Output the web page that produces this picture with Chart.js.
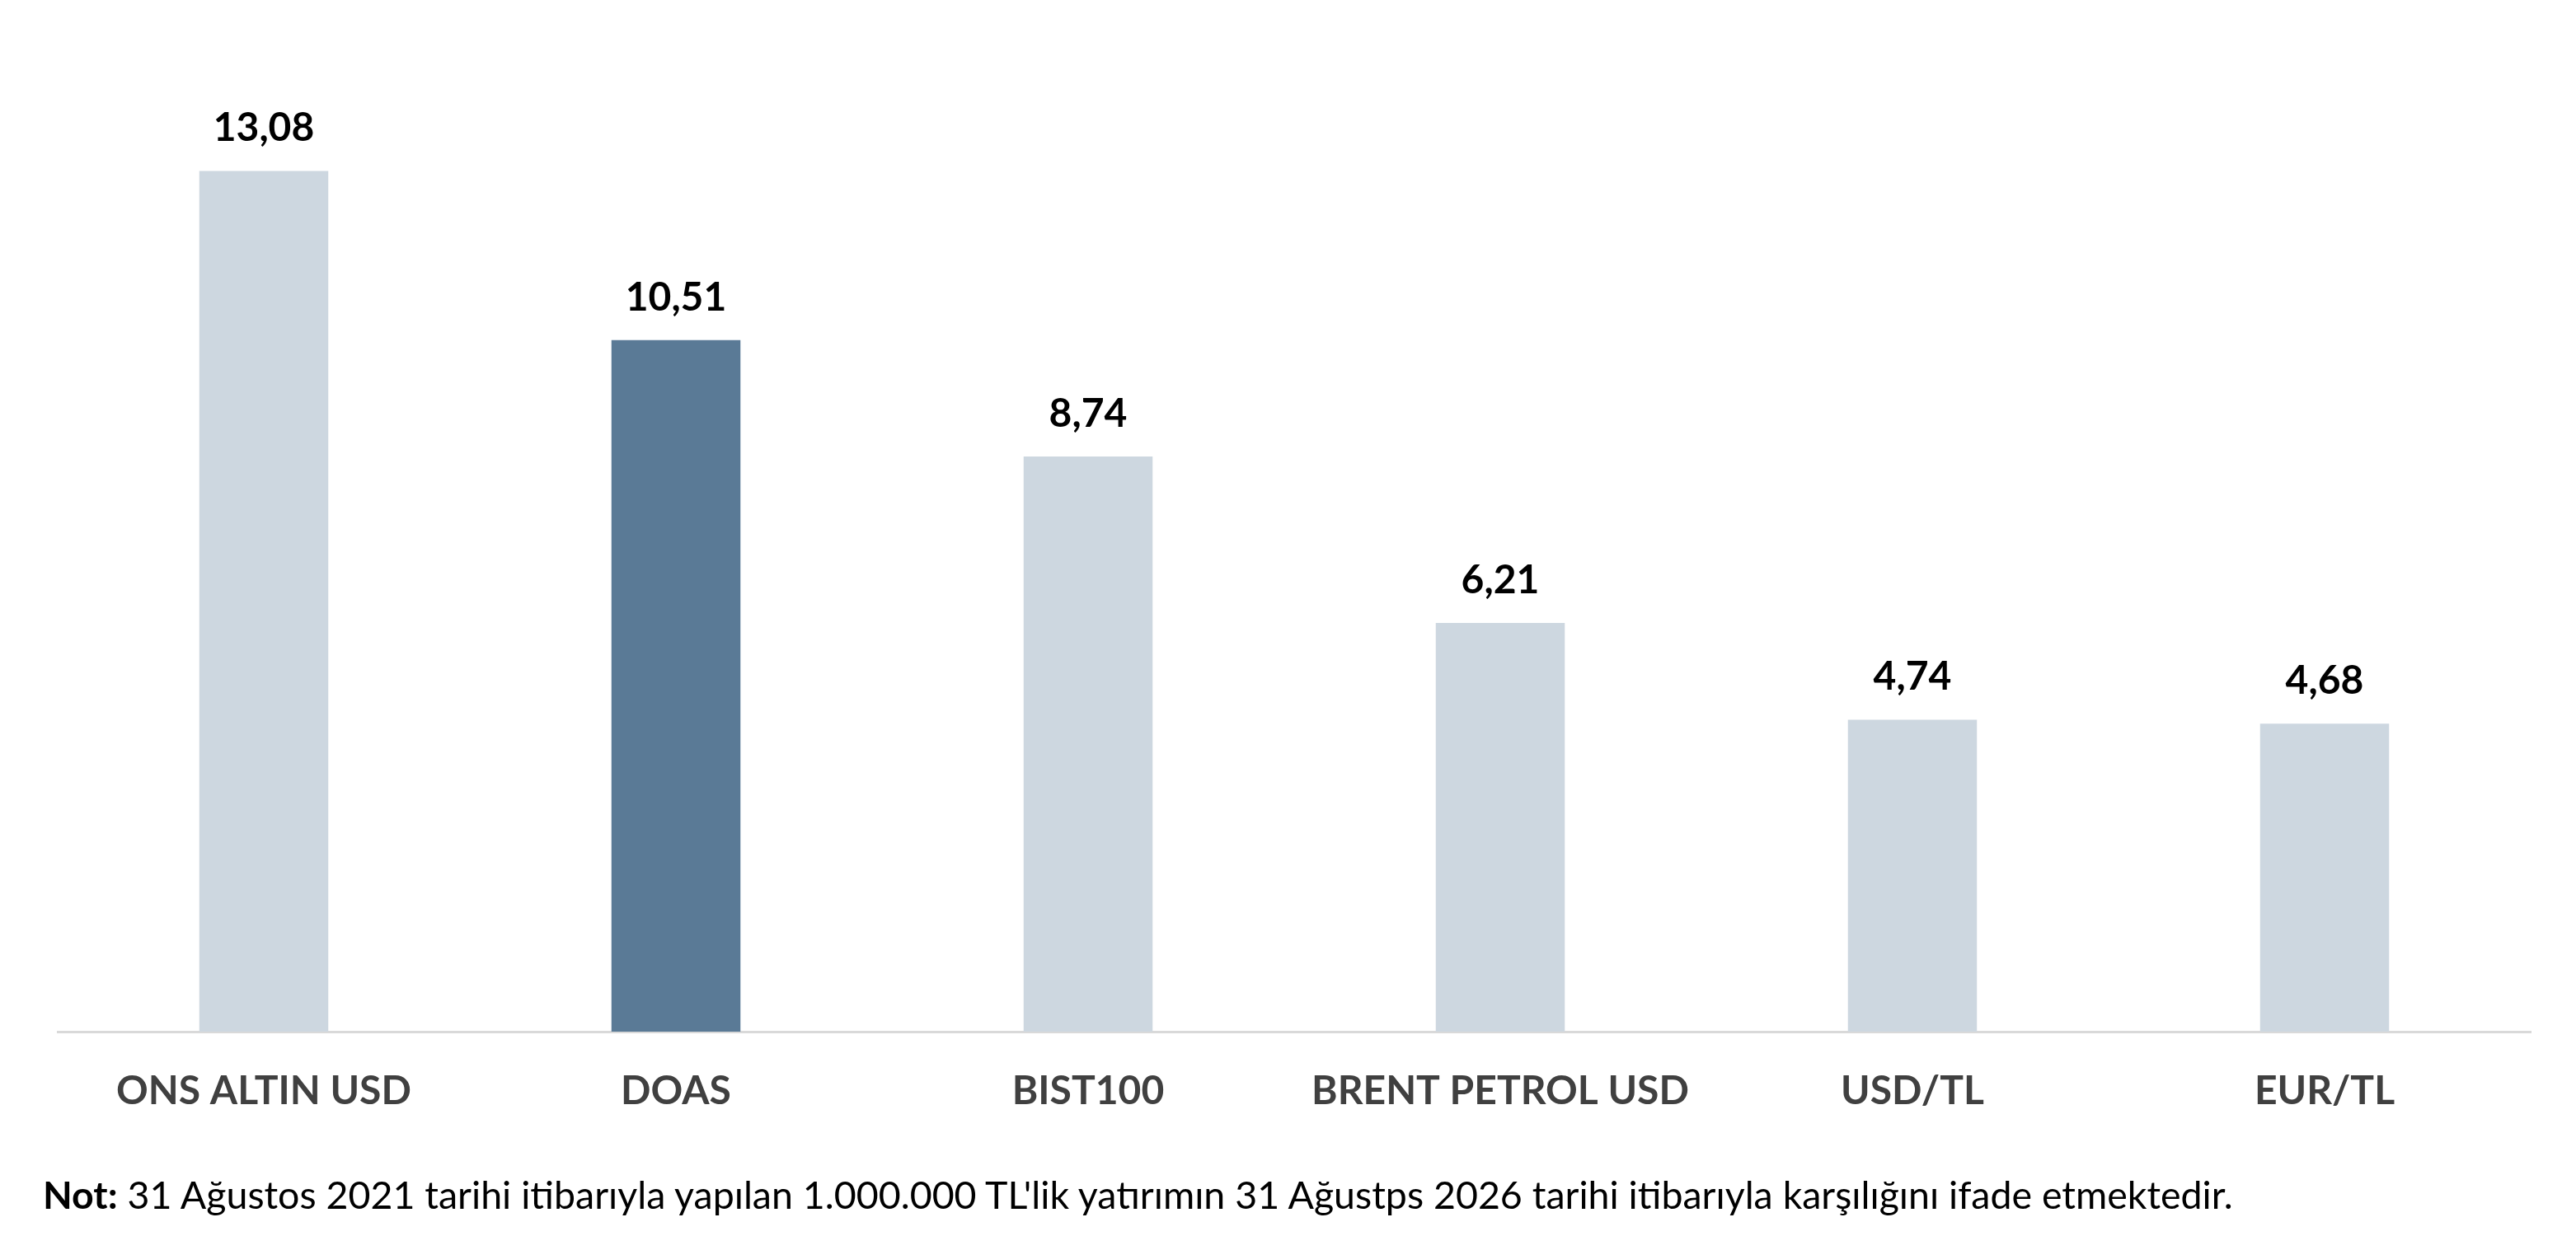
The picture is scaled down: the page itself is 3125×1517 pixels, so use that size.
<!DOCTYPE html>
<html>
<head>
<meta charset="utf-8">
<script src="https://cdn.jsdelivr.net/npm/chart.js@4.4.1/dist/chart.umd.min.js"></script>
<style>
  html, body { margin: 0; padding: 0; background: #fff; }
  #wrap { position: relative; width: 3125px; height: 1517px; }
  #note {
    position: absolute; left: 52px; top: 1421px;
    font-family: Lato, "Open Sans", sans-serif; font-size: 46.5px; color: #000;
    white-space: nowrap;
  }
  #note b { font-weight: 700; }
</style>
</head>
<body>
<div id="wrap">
  <canvas id="bar_1" width="3125" height="1517"></canvas>
  <div id="note"><b>Not:</b> 31 Ağustos 2021 tarihi itibarıyla yapılan 1.000.000 TL'lik yatırımın 31 Ağustps 2026 tarihi itibarıyla karşılığını ifade etmektedir.</div>
</div>
<script>
// kategori dan nilai
const categories = ['ONS ALTIN USD', 'DOAS', 'BIST100', 'BRENT PETROL USD', 'USD/TL', 'EUR/TL'];
const values = [13.08, 10.51, 8.74, 6.21, 4.74, 4.68];
const valueLabels = ['13,08', '10,51', '8,74', '6,21', '4,74', '4,68'];
const highlight = 'DOAS';

const FONT = 'Lato, "Open Sans", sans-serif';

// plugin untuk label nilai di atas bar
const valueLabelPlugin = {
    id: 'valueLabels',
    afterDatasetsDraw(chart) {
        const ctx = chart.ctx;
        const meta = chart.getDatasetMeta(0);
        ctx.save();
        ctx.font = 'bold 48px ' + FONT;
        ctx.fillStyle = '#000';
        ctx.textAlign = 'center';
        ctx.textBaseline = 'alphabetic';
        meta.data.forEach((bar, i) => {
            ctx.fillText(valueLabels[i], bar.x, bar.y - 36);
        });
        ctx.restore();
    }
};

const ctx = document.getElementById('bar_1').getContext('2d');
const chart_1 = new Chart(ctx, {
    type: 'bar',
    data: {
        labels: categories,
        datasets: [{
            data: values,
            backgroundColor: categories.map(c => c === highlight ? '#5a7a96' : '#cdd7e0'),
            categoryPercentage: 1,
            barPercentage: 0.313
        }]
    },
    options: {
        responsive: false,
        animation: false,
        devicePixelRatio: 1,
        layout: { padding: { left: 70, right: 55, top: 134, bottom: 0 } },
        plugins: { legend: { display: false }, tooltip: { enabled: false } },
        scales: {
            x: {
                grid: { display: false, drawTicks: false },
                border: { display: true, color: '#d9d9d9', width: 3 },
                ticks: {
                    color: '#404040',
                    font: { family: FONT, size: 48, weight: 'bold' },
                    padding: 44,
                    maxRotation: 0,
                    autoSkip: false
                },
                afterFit(scale) { scale.height = 265; }
            },
            y: {
                display: false,
                min: 0,
                max: 14
            }
        }
    },
    plugins: [valueLabelPlugin]
});
</script>
</body>
</html>
